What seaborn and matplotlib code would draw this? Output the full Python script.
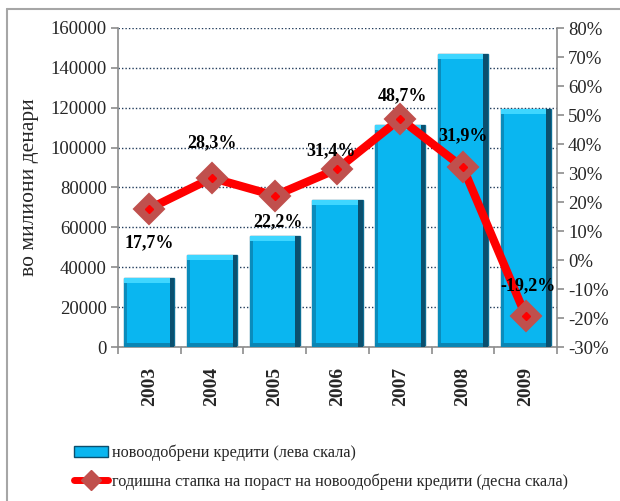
import numpy as np
import pandas as pd
import matplotlib
matplotlib.use("Agg")
import matplotlib.pyplot as plt
from matplotlib.patches import Patch, Rectangle
from matplotlib.lines import Line2D
import seaborn as sns

# data
years = ["2003", "2004", "2005", "2006", "2007", "2008", "2009"]
new_loans = [34800, 46200, 55800, 73800, 111300, 147000, 119400]   # mil. denars
growth = [17.7, 28.3, 22.2, 31.4, 48.7, 31.9, -19.2]               # % yoy
growth_labels = ["17,7%", "28,3%", "22,2%", "31,4%", "48,7%", "31,9%", "-19,2%"]
# label offsets relative to the markers (pixels)
label_dx = [0, 0, 3, -6, 2, 0, 2]
label_dy = [-34, 35, -26, 18, 23, 32, 30]

sns.set_theme(style="white")
plt.rcParams["font.family"] = ["Liberation Serif", "DejaVu Serif"]

df = pd.DataFrame({"year": years, "loans": new_loans})

fig = plt.figure(figsize=(6.2, 5.01), dpi=100)
ax = fig.add_axes([118 / 620, 1 - 347 / 501, (557 - 118) / 620, (347 - 28) / 501])

bar_main = "#0ab6f0"
sns.barplot(data=df, x="year", y="loans", color=bar_main, width=0.8,
            edgecolor="#0d6d93", linewidth=1.0, saturation=1, ax=ax, zorder=2)

# bevel effect on each bar, built from the bar patches themselves
for p in ax.patches:
    x0, y0 = p.get_x(), p.get_y()
    w, h = p.get_width(), p.get_height()
    bw = w * 0.09
    bh = 2600
    ax.add_patch(Rectangle((x0 + w - bw, y0), bw, h, color="#0b4f6e", zorder=3, lw=0))
    ax.add_patch(Rectangle((x0, y0), bw * 0.7, h, color="#0a8cbc", zorder=3, lw=0))
    ax.add_patch(Rectangle((x0, y0 + h - bh), w - bw, bh, color="#3fd6ff", zorder=3, lw=0))
    ax.add_patch(Rectangle((x0, y0), w - bw, bh * 0.8, color="#0a85b3", zorder=3, lw=0))

ax.set_ylim(0, 160000)
ax.set_yticks(np.arange(0, 160001, 20000))
ax.set_xlim(-0.5, len(years) - 0.5)
ax.yaxis.grid(True, linestyle=(0, (1, 1.5)), color="#1f3a5a", linewidth=1.0)
ax.set_axisbelow(True)

spine_col = "#8c8c8c"
for s in ["left", "bottom"]:
    ax.spines[s].set_color(spine_col)
    ax.spines[s].set_linewidth(1.2)
ax.spines["top"].set_visible(False)
ax.spines["right"].set_visible(False)

ax.tick_params(axis="y", direction="out", length=5, width=1.2, color=spine_col,
               labelsize=13.5, pad=3, left=True)
ax.set_xticks(np.arange(-0.5, len(years), 1), minor=True)
ax.tick_params(axis="x", which="minor", direction="out", length=5, width=1.2,
               color=spine_col, bottom=True)
ax.tick_params(axis="x", which="major", length=0, pad=14, labelsize=14)
for t in ax.get_xticklabels():
    t.set_rotation(90)
    t.set_fontweight("bold")
    t.set_va("top")
ax.set_xlabel("")
ax.set_ylabel("во милиони денари", fontsize=15.5)
ax.yaxis.set_label_coords(-0.18, 0.5)

# right axis: growth rate
ax2 = ax.twinx()
ax2.set_ylim(-30, 80)
ax2.set_yticks(np.arange(-30, 81, 10))
ax2.set_yticklabels([f"{v}%" for v in range(-30, 81, 10)])
for s in ["top", "left", "bottom"]:
    ax2.spines[s].set_visible(False)
ax2.spines["right"].set_color(spine_col)
ax2.spines["right"].set_linewidth(1.2)
ax2.tick_params(axis="y", direction="out", length=5, width=1.2, color=spine_col,
                labelsize=13.5, pad=3, right=True)

xs = np.arange(len(years))
ax2.plot(xs, growth, color="#ff0000", linewidth=6, solid_capstyle="butt", zorder=4)
ax2.plot(xs, growth, linestyle="none", marker="D", markersize=15,
         markerfacecolor="#c0504d", markeredgecolor="#c0504d", markeredgewidth=1.5,
         zorder=5)
ax2.plot(xs, growth, linestyle="none", marker="D", markersize=4,
         markerfacecolor="#ff0000", markeredgecolor="#ff0000", zorder=6)

for i, lab in enumerate(growth_labels):
    ax2.annotate(lab, (xs[i], growth[i]), xytext=(label_dx[i] * 0.72, label_dy[i] * 0.72),
                 textcoords="offset points", ha="center", va="center",
                 fontsize=13, fontweight="bold", color="black", zorder=7)

# legend
h_bar = Patch(facecolor=bar_main, edgecolor="#0b4f6e", linewidth=1.0)
h_line = Line2D([], [], color="#ff0000", linewidth=5, marker="D", markersize=10,
                markerfacecolor="#c0504d", markeredgecolor="#c0504d")
fig.legend([h_bar, h_line],
           ["новоодобрени кредити (лева скала)",
            "годишна стапка на пораст на новоодобрени кредити (десна скала)"],
           loc="center left", bbox_to_anchor=(74 / 620, 1 - 467 / 501),
           frameon=False, fontsize=11.7, handlelength=2.1, handletextpad=0.25,
           labelspacing=0.75, borderaxespad=0, borderpad=0)

# outer frame (top and left edges visible)
fig.add_artist(Line2D([7 / 620, 1], [1 - 9 / 501, 1 - 9 / 501], color="#a6a6a6", lw=1.5))
fig.add_artist(Line2D([7 / 620, 7 / 620], [0, 1 - 9 / 501], color="#a6a6a6", lw=1.5))

fig.savefig("out.png", dpi=100)
